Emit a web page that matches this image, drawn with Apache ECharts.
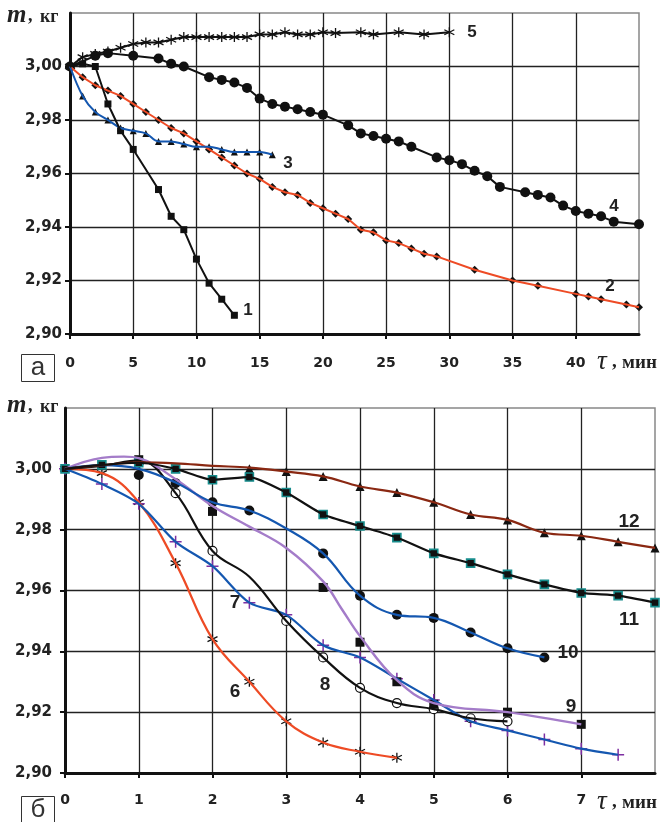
<!DOCTYPE html>
<html><head><meta charset="utf-8">
<script src="https://cdn.jsdelivr.net/npm/echarts@6/dist/echarts.min.js"></script>
<style>html,body{margin:0;padding:0;background:#fff}#c{width:667px;height:822px}</style>
</head><body><div id="c"></div>
<script>
// ---- Panel а (top): time in minutes, mass in kg ----
const s1 = [[0,3.000],[1,3.001],[2,3.000],[3,2.986],[4,2.976],[5,2.969],[7,2.954],[8,2.944],[9,2.939],[10,2.928],[11,2.919],[12,2.913],[13,2.907]];
const s2 = [[0,3.000],[1,2.996],[2,2.993],[3,2.991],[4,2.989],[5,2.986],[6,2.983],[7,2.980],[8,2.977],[9,2.975],[10,2.972],[11,2.969],[12,2.966],[13,2.963],[14,2.960],[15,2.958],[16,2.955],[17,2.953],[18,2.952],[19,2.949],[20,2.947],[21,2.945],[22,2.943],[23,2.939],[24,2.938],[25,2.935],[26,2.934],[27,2.932],[28,2.930],[29,2.929],[32,2.924],[35,2.920],[37,2.918],[40,2.915],[41,2.914],[42,2.913],[44,2.911],[45,2.910]];
const s3 = [[0,3.000],[1,2.989],[2,2.983],[3,2.980],[4,2.977],[5,2.976],[6,2.975],[7,2.972],[8,2.972],[9,2.971],[10,2.970],[11,2.970],[12,2.969],[13,2.968],[14,2.968],[15,2.968],[16,2.967]];
const s4 = [[0,3.000],[2,3.004],[3,3.005],[5,3.004],[7,3.003],[8,3.001],[9,3.000],[11,2.996],[12,2.995],[13,2.994],[14,2.992],[15,2.988],[16,2.986],[17,2.985],[18,2.984],[19,2.983],[20,2.982],[22,2.978],[23,2.975],[24,2.974],[25,2.973],[26,2.972],[27,2.970],[29,2.966],[30,2.965],[31,2.9635],[32,2.961],[33,2.959],[34,2.955],[36,2.953],[37,2.952],[38,2.951],[39,2.948],[40,2.946],[41,2.945],[42,2.944],[43,2.942],[45,2.941]];
const s5 = [[0,3.000],[1,3.0035],[2,3.0047],[3,3.0056],[4,3.007],[5,3.0084],[6,3.009],[7,3.009],[8,3.010],[9,3.011],[10,3.011],[11,3.011],[12,3.011],[13,3.011],[14,3.011],[15,3.012],[16,3.012],[17,3.0128],[18,3.012],[19,3.012],[20,3.0128],[21,3.0125],[23,3.0128],[24,3.012],[26,3.0128],[28,3.012],[30,3.0128]];

// ---- Panel б (bottom) ----
const s6 = [[0,3.000],[0.5,2.9986],[1,2.989],[1.5,2.969],[2,2.944],[2.5,2.930],[3,2.917],[3.5,2.910],[4,2.907],[4.5,2.905]];
const s7 = [[0,3.000],[0.5,2.995],[1,2.9885],[1.5,2.976],[2,2.968],[2.5,2.956],[3,2.952],[3.5,2.942],[4,2.938],[4.5,2.931],[5,2.924],[5.5,2.917],[6,2.914],[6.5,2.911],[7,2.908],[7.5,2.906]];
const s8Marks = [[1,3.002],[1.5,2.992],[2,2.973],[3,2.950],[3.5,2.938],[4,2.928],[4.5,2.923],[5,2.921],[5.5,2.918],[6,2.917]];
const s8Curve = [[0,3.000],[0.5,3.001],[1,3.0028],[1.5,2.992],[2,2.973],[2.5,2.9645],[3,2.950],[3.5,2.938],[4,2.928],[4.5,2.923],[5,2.921],[5.5,2.918],[6,2.917]];
const s9Marks = [[1,3.003],[2,2.986],[3.5,2.961],[4,2.943],[4.5,2.930],[5,2.9226],[6,2.920],[7,2.916]];
const s9Curve = [[0,3.000],[0.5,3.0036],[0.8,3.004],[1,3.0035],[1.5,2.9966],[2,2.9878],[2.5,2.981],[3,2.974],[3.5,2.963],[3.75,2.954],[4,2.945],[4.5,2.9305],[5,2.923],[6,2.920],[7,2.916]];
const s10Marks = [[1,2.998],[1.5,2.9953],[2,2.989],[2.5,2.9863],[3.5,2.9722],[4,2.9583],[4.5,2.952],[5,2.951],[5.5,2.9462],[6,2.941],[6.5,2.938]];
const s10Curve = [[0,3.000],[0.5,3.0012],[1,3.000],[1.5,2.9955],[2,2.989],[2.5,2.9863],[3,2.9804],[3.5,2.9722],[4,2.9583],[4.5,2.952],[5,2.951],[5.5,2.9462],[6,2.941],[6.5,2.938]];
const s11 = [[0,3.000],[0.5,3.0013],[1,3.002],[1.5,3.000],[2,2.9964],[2.5,2.9973],[3,2.9922],[3.5,2.985],[4,2.9812],[4.5,2.9774],[5,2.9722],[5.5,2.969],[6,2.9653],[6.5,2.962],[7,2.9592],[7.5,2.9583],[8,2.956]];
const s12Marks = [[2.5,3.000],[3,2.9991],[3.5,2.9975],[4,2.9942],[4.5,2.9922],[5,2.989],[5.5,2.985],[6,2.9832],[6.5,2.979],[7,2.978],[7.5,2.976],[8,2.974]];
const s12Curve = [[0,3.000],[0.5,3.0012],[1,3.0021],[1.5,3.0018],[2,3.001],[2.5,3.0004],[3,2.9991],[3.5,2.9975],[4,2.9942],[4.5,2.9922],[5,2.989],[5.5,2.985],[6,2.9832],[6.5,2.979],[7,2.978],[7.5,2.976],[8,2.974]];

const topCurveLabels = ['1','2','3','4','5'];
const botCurveLabels = ['6','7','8','9','10','11','12'];
const yVar = 'm', yUnit = 'кг';
const xVar = 'τ', xUnit = 'мин';
const panelNames = ['а','б'];

const RED='#EE4B25', BLUE='#1457B0', PURPLE='#A47CC9', PLUS='#7E2FA2', BROWN='#8A2812', TEAL='#168C8C', BLK='#111';
const AST='path://M5,0 L5,10 M0.67,2.5 L9.33,7.5 M0.67,7.5 L9.33,2.5';
const PLS='path://M0,5 L10,5 M5,0 L5,10';

function line(data, g, color, w, smooth){
  return {type:'line', xAxisIndex:g, yAxisIndex:g, data, symbol:'none', showSymbol:false, silent:true,
    smooth: smooth, lineStyle:{color, width:w}, animation:false};
}
function marks(data, g, symbol, size, fill, border, bw){
  return {type:'scatter', xAxisIndex:g, yAxisIndex:g, data, symbol, symbolSize:size, silent:true,
    itemStyle:{color:fill, borderColor:border||fill, borderWidth:bw||0, opacity:1}, animation:false};
}

const FONT = '"Liberation Sans", Arial, sans-serif';
const TFONT = '"DejaVu Sans", sans-serif';
const SERIF = '"Liberation Serif", "Times New Roman", serif';
function xAx(g, max, interval, margin){
  return {gridIndex:g, type:'value', min:0, max, interval,
    axisLine:{show:true, onZero:false, lineStyle:{color:BLK, width:3}},
    axisTick:{show:true, length:5, lineStyle:{color:BLK, width:2}},
    axisLabel:{margin, fontSize:14, fontWeight:'bold', color:'#222', fontFamily:TFONT, showMaxLabel:false},
    splitLine:{show:true, showMinLine:false, showMaxLine:false, lineStyle:{color:'#222', width:1.3}}};
}
function yAx(g, margin){
  return {gridIndex:g, type:'value', min:2.90, max:3.02, interval:0.02,
    axisLine:{show:true, onZero:false, lineStyle:{color:BLK, width:3}},
    axisTick:{show:true, length:5, lineStyle:{color:BLK, width:2}},
    axisLabel:{margin, fontSize:15, fontWeight:'bold', color:'#222', fontFamily:TFONT, showMaxLabel:false,
      formatter: v => v.toFixed(2).replace('.', ',')},
    splitLine:{show:true, showMinLine:false, showMaxLine:false, lineStyle:{color:'#222', width:1.3}}};
}

const series = [
  line(s2,0,RED,2,false), marks(s2,0,'diamond',8,BLK),
  line(s3,0,BLUE,2,0.35), marks(s3,0,'triangle',7,BLK),
  line(s1,0,BLK,2,false), marks(s1,0,'rect',7,BLK),
  line(s4,0,BLK,2,false), marks(s4,0,'circle',10,BLK),
  line(s5,0,BLK,2,false), marks(s5,0,AST,10,BLK,BLK,1.3),

  line(s6,1,RED,2.2,0.4), marks(s6,1,AST,10,BLK,BLK,1.3),
  line(s7,1,BLUE,2.2,0.3), marks(s7,1,PLS,12,PLUS,PLUS,1.5),
  line(s8Curve,1,BLK,2.2,0.4), marks(s8Marks,1,'circle',9,'#fff',BLK,1.2),
  line(s9Curve,1,PURPLE,2.4,0.4), marks(s9Marks,1,'rect',9,BLK),
  line(s10Curve,1,BLUE,2.2,0.4), marks(s10Marks,1,'circle',10,BLK),
  line(s12Curve,1,BROWN,2.2,0.4), marks(s12Marks,1,'triangle',9,BLK),
  line(s11,1,BLK,2.2,0.2), marks(s11,1,'rect',8,BLK,TEAL,1.6)
];

function txt(text, x, y, size, opts){
  return {type:'text', z:100, style:Object.assign({text, x, y, fill:'#222', fontSize:size, fontWeight:'bold',
    fontFamily:FONT, align:'left', verticalAlign:'middle'}, opts||{})};
}
function num(text, x, y, size){ return txt(text, x, y, size, {align:'center'}); }
function yTitle(x, y){
  return [
    txt(yVar, x, y, 25, {fontStyle:'italic', fontFamily:SERIF}),
    txt(',', x+21, y, 18, {fontFamily:SERIF}),
    txt(yUnit, x+33, y+1, 18, {fontFamily:SERIF})
  ];
}
function xTitle(x, y){
  return [
    txt(xVar, x, y, 27, {fontStyle:'italic', fontWeight:'normal', fontFamily:SERIF}),
    txt(',', x+15, y, 19, {fontFamily:SERIF}),
    txt(xUnit, x+25, y+1, 19, {fontFamily:SERIF})
  ];
}
function box(text, x, y, w, h){
  return [
    {type:'rect', z:100, shape:{x, y, width:w, height:h}, style:{fill:'#fff', stroke:'#333', lineWidth:1}},
    {type:'text', z:101, style:{text, x:x+w/2, y:y+13, align:'center', verticalAlign:'middle', fill:'#333',
      fontSize:26, fontFamily:'"Liberation Sans Narrow", "Liberation Sans", sans-serif'}}
  ];
}

const graphic = [
  ...yTitle(7, 16), ...xTitle(597, 362),
  num(topCurveLabels[0], 248, 310, 17), num(topCurveLabels[1], 610, 286, 17), num(topCurveLabels[2], 288, 163, 17),
  num(topCurveLabels[3], 614, 206, 17), num(topCurveLabels[4], 472, 32, 17),
  ...box(panelNames[0], 21.5, 354.5, 33, 27),
  ...yTitle(7, 406), ...xTitle(597, 802),
  num(botCurveLabels[0], 235, 692, 19), num(botCurveLabels[1], 235, 603, 19), num(botCurveLabels[2], 325, 685, 19),
  num(botCurveLabels[3], 571, 707, 19), num(botCurveLabels[4], 568, 653, 19), num(botCurveLabels[5], 629, 620, 19),
  num(botCurveLabels[6], 629, 522, 19),
  ...box(panelNames[1], 21.5, 796.5, 33, 30)
];

const chart = echarts.init(document.getElementById('c'), null, {renderer:'canvas'});
chart.setOption({
  animation:false,
  backgroundColor:'#fff',
  grid:[
    {left:70, top:13, width:569, height:321, show:true, borderColor:'#888', borderWidth:1.5, backgroundColor:'transparent'},
    {left:65, top:408, width:590, height:365, show:true, borderColor:'#888', borderWidth:1.5, backgroundColor:'transparent'}
  ],
  xAxis:[xAx(0,45,5,22), xAx(1,8,1,20)],
  yAxis:[yAx(0,8), yAx(1,13)],
  series,
  graphic
});
</script></body></html>
